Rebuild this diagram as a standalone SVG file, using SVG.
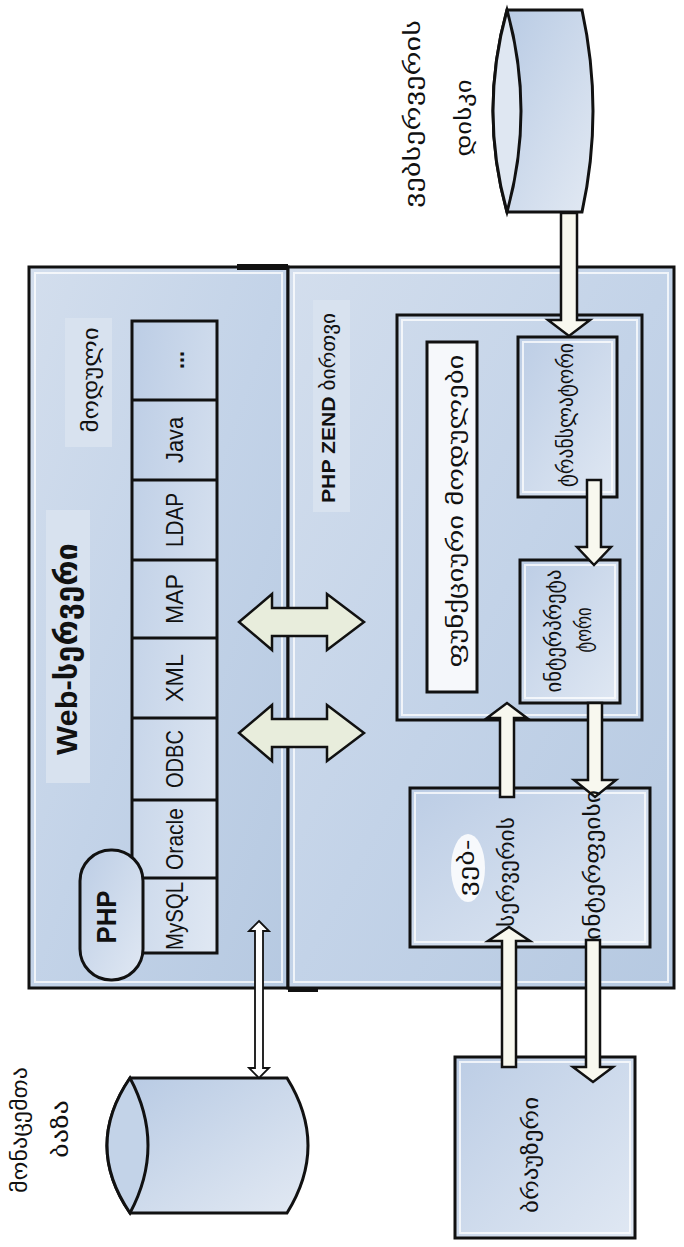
<svg xmlns="http://www.w3.org/2000/svg" width="684" height="1247" viewBox="0 0 684 1247">
<defs>
<linearGradient id="panel" x1="0" y1="0" x2="1" y2="1">
<stop offset="0" stop-color="#d3deed"/><stop offset="0.5" stop-color="#c3d3e8"/><stop offset="1" stop-color="#b6c9e1"/>
</linearGradient>
<linearGradient id="box" x1="0" y1="0" x2="1" y2="1">
<stop offset="0" stop-color="#bccde5"/><stop offset="1" stop-color="#e0e8f3"/>
</linearGradient>
<linearGradient id="cyl" x1="0" y1="0" x2="1" y2="1">
<stop offset="0" stop-color="#b6c9e3"/><stop offset="1" stop-color="#e2e9f3"/>
</linearGradient>
<style>
.k{stroke:#111;stroke-width:3;}
.wi{fill:none;stroke:#fff;stroke-width:2;opacity:.75;}
.bx{fill:url(#box);stroke:#111;stroke-width:3;}
.ar{fill:#f8f8ef;stroke:#111;stroke-width:2.5;stroke-linejoin:miter;}
.dar{fill:#e8eddc;stroke:#111;stroke-width:2.5;}
.g{font-family:"DejaVu Sans","Noto Sans",sans-serif;font-size:22px;fill:#111;}
.l{font-family:"Liberation Sans",Arial,sans-serif;fill:#111;}
.hl{fill:#d8e2ef;}
</style>
</defs>
<rect width="684" height="1247" fill="#fff"/>

<g id="web-server">
<rect x="29" y="267" width="259" height="721" fill="url(#panel)" class="k"/>
<rect x="35" y="273" width="247" height="709" class="wi"/>
<line x1="237" y1="267" x2="288" y2="267" stroke="#111" stroke-width="6"/>
<rect x="46" y="510" width="44" height="273" class="hl"/>
<text class="l" font-weight="bold" font-size="30" transform="translate(77 649) rotate(-90)" text-anchor="middle" textLength="212" lengthAdjust="spacingAndGlyphs">Web-<tspan font-family="DejaVu Sans,sans-serif">სერვერი</tspan></text>
<rect x="65" y="318" width="47" height="129" class="hl"/>
<text class="g" font-size="24" transform="translate(98 380) rotate(-90)" text-anchor="middle" textLength="105" lengthAdjust="spacingAndGlyphs">მოდული</text>
</g>

<g id="modules">
<rect x="132" y="321" width="85" height="632" class="bx"/>
<g class="k">
<line x1="132" y1="400" x2="217" y2="400"/><line x1="132" y1="480" x2="217" y2="480"/>
<line x1="132" y1="560" x2="217" y2="560"/><line x1="132" y1="638" x2="217" y2="638"/>
<line x1="132" y1="718" x2="217" y2="718"/><line x1="132" y1="800" x2="217" y2="800"/>
<line x1="132" y1="878" x2="217" y2="878"/>
</g>
<g class="l" font-size="24" text-anchor="middle">
<text transform="translate(184 360) rotate(-90)" font-weight="bold" textLength="18" lengthAdjust="spacingAndGlyphs">...</text>
<text transform="translate(183 440) rotate(-90)" textLength="46" lengthAdjust="spacingAndGlyphs">Java</text>
<text transform="translate(183 520) rotate(-90)" textLength="54" lengthAdjust="spacingAndGlyphs">LDAP</text>
<text transform="translate(183 599) rotate(-90)" textLength="50" lengthAdjust="spacingAndGlyphs">MAP</text>
<text transform="translate(183 678) rotate(-90)" textLength="48" lengthAdjust="spacingAndGlyphs">XML</text>
<text transform="translate(183 759) rotate(-90)" textLength="58" lengthAdjust="spacingAndGlyphs">ODBC</text>
<text transform="translate(183 839) rotate(-90)" textLength="62" lengthAdjust="spacingAndGlyphs">Oracle</text>
<text transform="translate(183 916) rotate(-90)" textLength="68" lengthAdjust="spacingAndGlyphs">MySQL</text>
</g>
</g>

<g id="php">
<rect x="80" y="850" width="63" height="130" rx="31" ry="31" class="bx"/>
<text class="l" font-weight="bold" font-size="28" transform="translate(116 917) rotate(-90)" text-anchor="middle" textLength="53" lengthAdjust="spacingAndGlyphs">PHP</text>
</g>

<g id="zend">
<rect x="288" y="267" width="386" height="721" fill="url(#panel)" class="k"/>
<rect x="294" y="273" width="374" height="709" class="wi"/>
<line x1="288" y1="990" x2="318" y2="990" stroke="#111" stroke-width="4"/>
<rect x="313" y="300" width="37" height="212" class="hl"/>
<text class="l" font-weight="bold" font-size="19" transform="translate(335 408) rotate(-90)" text-anchor="middle" textLength="190" lengthAdjust="spacingAndGlyphs">PHP ZEND <tspan font-weight="normal" font-family="DejaVu Sans,sans-serif">ბირთვი</tspan></text>
</g>

<g id="engine">
<rect x="397" y="315" width="245" height="405" fill="none" class="k"/>
<rect x="402" y="320" width="235" height="395" class="wi"/>
</g>

<g id="functions">
<rect x="427" y="342" width="50" height="350" fill="#f6f8fb" class="k"/>
<text class="g" transform="translate(463 511) rotate(-90)" text-anchor="middle" textLength="313" lengthAdjust="spacingAndGlyphs">ფუნქციური მოდულები</text>
</g>

<g id="translator">
<rect x="518" y="337" width="99" height="160" class="bx"/>
<rect x="523" y="342" width="89" height="150" class="wi"/>
<text class="g" transform="translate(573 415) rotate(-90)" text-anchor="middle" textLength="144" lengthAdjust="spacingAndGlyphs">ტრანსლატორი</text>
</g>

<g id="interpreter">
<rect x="520" y="560" width="100" height="143" class="bx"/>
<rect x="525" y="565" width="90" height="133" class="wi"/>
<text class="g" transform="translate(561 631) rotate(-90)" text-anchor="middle" textLength="123" lengthAdjust="spacingAndGlyphs">ინტერპრეტა</text>
<text class="g" transform="translate(591 630) rotate(-90)" text-anchor="middle" textLength="45" lengthAdjust="spacingAndGlyphs">ტორი</text>
</g>

<g id="interface">
<rect x="410" y="788" width="240" height="159" class="bx"/>
<rect x="415" y="793" width="230" height="149" class="wi"/>
<ellipse cx="468" cy="868" rx="17" ry="34" fill="#fff" opacity=".85"/>
</g>

<g id="browser">
<rect x="455" y="1057" width="180" height="181" class="bx"/>
<rect x="460" y="1062" width="170" height="171" class="wi"/>
<text class="g" transform="translate(538 1155) rotate(-90)" text-anchor="middle" textLength="116" lengthAdjust="spacingAndGlyphs">ბრაუზერი</text>
</g>

<g id="database">
<path d="M130 1078 L287 1078 Q329 1145.5 287 1213 L130 1213 Q84 1145.5 130 1078 Z" fill="url(#cyl)" class="k"/>
<path d="M130 1078 Q84 1145.5 130 1213 Q166 1145.5 130 1078 Z" fill="#c3d3e8" class="k"/>
<text class="g" transform="translate(27 1130) rotate(-90)" text-anchor="middle" textLength="126" lengthAdjust="spacingAndGlyphs">მონაცემთა</text>
<text class="g" transform="translate(68 1129) rotate(-90)" text-anchor="middle" textLength="58" lengthAdjust="spacingAndGlyphs">ბაზა</text>
</g>

<g id="disk">
<path d="M507 10 L582 10 Q604 111 582 212 L507 212 Q479 111 507 10 Z" fill="url(#cyl)" class="k"/>
<path d="M507 10 Q479 111 507 212 Q535 111 507 10 Z" fill="#dfe7f2" class="k"/>
<text class="g" font-size="26" transform="translate(420 114) rotate(-90)" text-anchor="middle" textLength="188" lengthAdjust="spacingAndGlyphs">ვებსერვერის</text>
<text class="g" font-size="26" transform="translate(471 118) rotate(-90)" text-anchor="middle" textLength="77" lengthAdjust="spacingAndGlyphs">დისკი</text>
</g>

<g id="connectors">
<path class="ar" d="M561 213 L561 320 L548 320 L569 336 L590 320 L577 320 L577 213 Z"/>
<path class="ar" d="M587 480 L587 547 L577 547 L594 565 L611 547 L601 547 L601 480 Z"/>
<path class="ar" d="M588 703 L588 780 L574 780 L595 797 L616 780 L602 780 L602 703 Z"/>
<path class="ar" d="M500 797 L500 718 L487 718 L507 703 L527 718 L514 718 L514 797 Z"/>
<path class="ar" d="M502 1067 L502 941 L488 941 L509 927 L530 941 L516 941 L516 1067 Z"/>
<path class="ar" d="M586 940 L586 1067 L573 1067 L593 1082 L613 1067 L600 1067 L600 940 Z"/>
<path class="dar" d="M239 622 L272 594 L272 608 L327 608 L327 594 L364 622 L327 650 L327 636 L272 636 L272 650 Z"/>
<path class="dar" d="M239 733 L272 705 L272 719 L327 719 L327 705 L364 733 L327 761 L327 747 L272 747 L272 761 Z"/>
<path fill="#fff" stroke="#111" stroke-width="1.8" d="M259 921 L269 931 L263 931 L263 1068 L269 1068 L259 1078 L249 1068 L255 1068 L255 931 L249 931 Z"/>
</g>

<g id="interface-label">
<text class="g" transform="translate(474 868) rotate(-90)" text-anchor="middle" textLength="57" lengthAdjust="spacingAndGlyphs">ვებ-</text>
<text class="g" transform="translate(514 872) rotate(-90)" text-anchor="middle" textLength="110" lengthAdjust="spacingAndGlyphs">სერვერის</text>
<text class="g" transform="translate(600 865) rotate(-90)" text-anchor="middle" textLength="150" lengthAdjust="spacingAndGlyphs">ინტერფეისი</text>
</g>
</svg>
